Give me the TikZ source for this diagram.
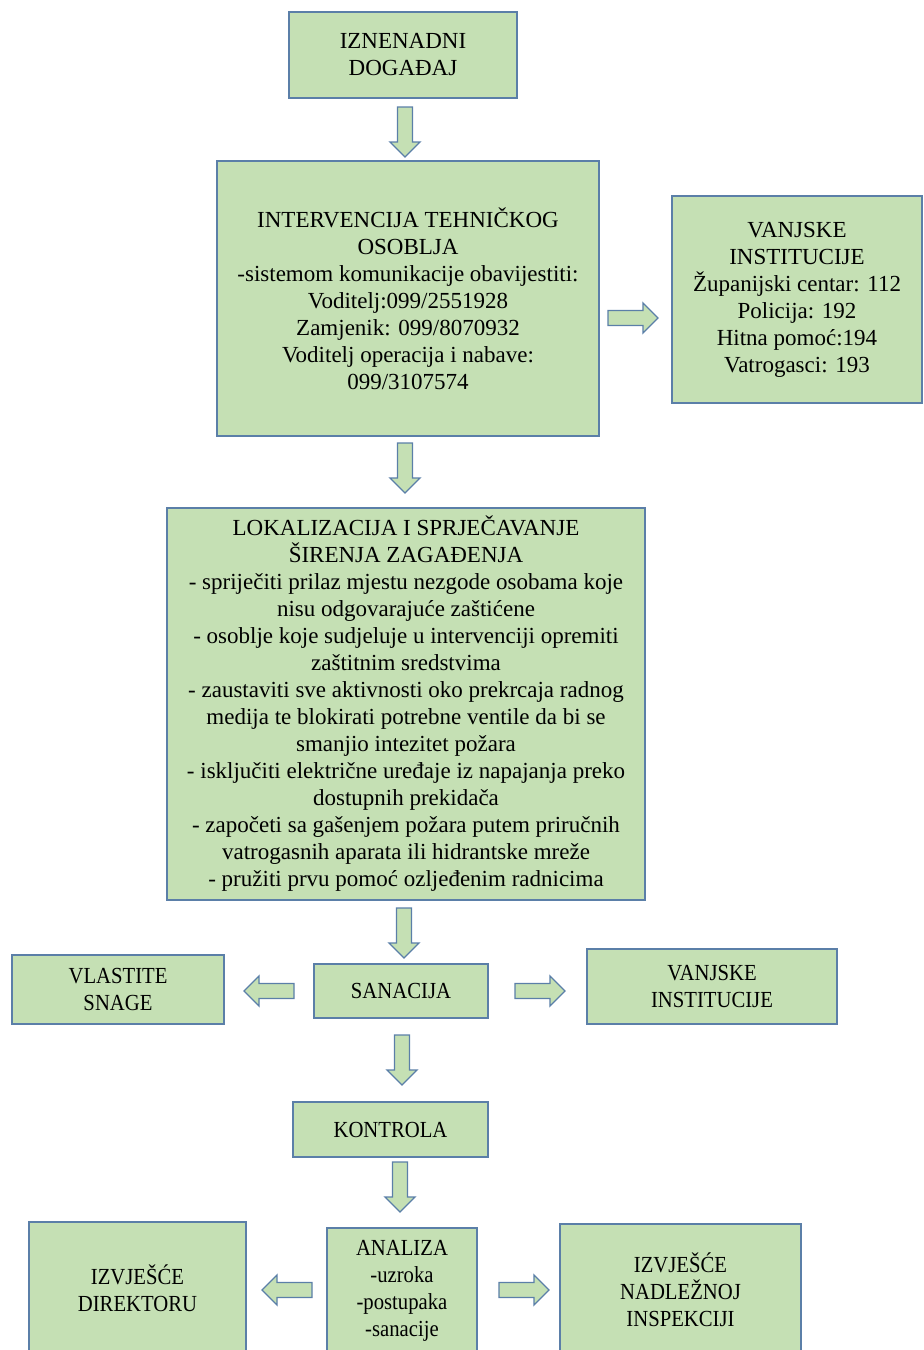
\documentclass[tikz,border=0pt]{standalone}
\usepackage{fontspec}
\setmainfont{Liberation Serif}
\newfontfamily\narrowfont[FakeStretch=0.9]{Liberation Serif}
\definecolor{boxfill}{HTML}{C5E0B4}
\definecolor{boxline}{HTML}{5B7FA8}
\tikzset{
  box/.style={draw=boxline, fill=boxfill, line width=0.8pt, align=center, inner sep=0pt,
    font=\fontsize{11.5}{13.5}\selectfont, text=black},
  nbox/.style={box, font=\narrowfont\fontsize{11.5}{13.5}\selectfont},
  barrow/.pic={\draw[draw=boxline, fill=boxfill, line width=0.65pt, line join=miter]
    (-25,-7.5) -- (10,-7.5) -- (10,-15) -- (25,0) -- (10,15) -- (10,7.5) -- (-25,7.5) -- cycle;}
}
\begin{document}
\begin{tikzpicture}[x=0.5pt,y=-0.5pt]
\useasboundingbox (0,0) rectangle (923,1350);
\clip (0,0) rectangle (923,1350);
\node[box, minimum width=114pt, minimum height=43pt] (dog) at (403,55) {IZNENADNI\\DOGAĐAJ};
\node[box, minimum width=191pt, minimum height=137.5pt] (int) at (408,298.5)
  {INTERVENCIJA TEHNIČKOG\\OSOBLJA\\-sistemom komunikacije obavijestiti:\\Voditelj:099/2551928\\Zamjenik: 099/8070932\\Voditelj operacija i nabave:\\099/3107574};
\node[box, minimum width=125pt, minimum height=103.5pt] (van1) at (797,299.5)
  {VANJSKE\\INSTITUCIJE\\Županijski centar: 112\\Policija: 192\\Hitna pomoć:194\\Vatrogasci: 193};
\node[box, minimum width=239pt, minimum height=196pt] (lok) at (406,704)
  {LOKALIZACIJA I SPRJEČAVANJE\\ŠIRENJA ZAGAĐENJA\\- spriječiti prilaz mjestu nezgode osobama koje\\nisu odgovarajuće zaštićene\\- osoblje koje sudjeluje u intervenciji opremiti\\zaštitnim sredstvima\\- zaustaviti sve aktivnosti oko prekrcaja radnog\\medija te blokirati potrebne ventile da bi se\\smanjio intezitet požara\\- isključiti električne uređaje iz napajanja preko\\dostupnih prekidača\\- započeti sa gašenjem požara putem priručnih\\vatrogasnih aparata ili hidrantske mreže\\- pružiti prvu pomoć ozljeđenim radnicima};
\node[nbox, minimum width=106pt, minimum height=34.5pt] (vla) at (118,989.5) {VLASTITE\\SNAGE};
\node[nbox, minimum width=87pt, minimum height=27pt] (san) at (401,991) {SANACIJA};
\node[nbox, minimum width=125pt, minimum height=37.5pt] (van2) at (712,986.5) {VANJSKE\\INSTITUCIJE};
\node[nbox, minimum width=97.5pt, minimum height=27.5pt] (kon) at (390.5,1129.5) {KONTROLA};
\node[nbox, minimum width=75pt, minimum height=63pt] (ana) at (402,1291) {ANALIZA\\-uzroka\\-postupaka\\-sanacije};
\node[nbox, minimum width=108.5pt, minimum height=66pt] (dir) at (137.5,1288) {IZVJEŠĆE\\DIREKTORU};
\node[nbox, minimum width=120.5pt, minimum height=66pt] (ins) at (680.5,1290) {IZVJEŠĆE\\NADLEŽNOJ\\INSPEKCIJI};
% block arrows
\pic[rotate=-90] at (405,132) {barrow};
\pic at (633,318) {barrow};
\pic[rotate=-90] at (405,468) {barrow};
\pic[rotate=-90] at (404,933) {barrow};
\pic[rotate=180] at (269,991) {barrow};
\pic at (540,991) {barrow};
\pic[rotate=-90] at (402,1060) {barrow};
\pic[rotate=-90] at (400,1187) {barrow};
\pic[rotate=180] at (287,1290) {barrow};
\pic at (524,1290) {barrow};
\end{tikzpicture}
\end{document}
